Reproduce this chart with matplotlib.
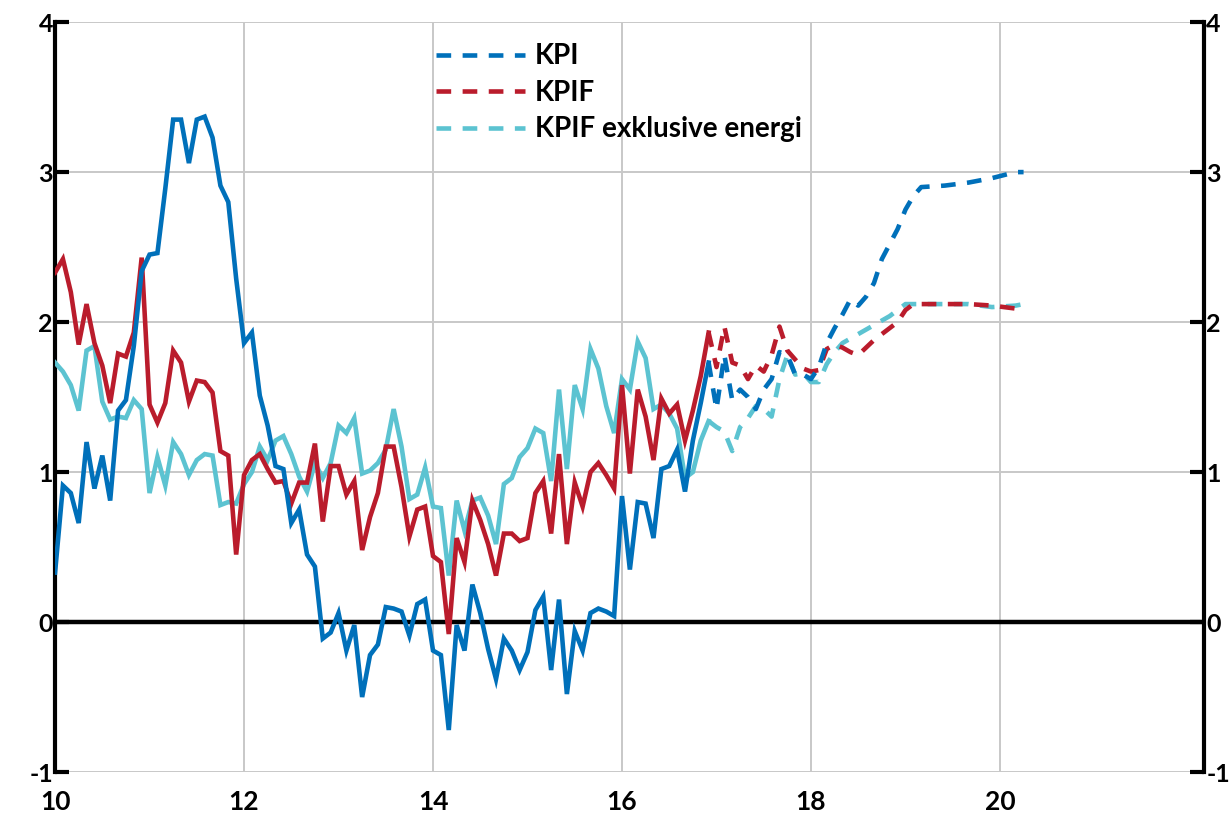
import numpy as np
import matplotlib
matplotlib.use("Agg")
import matplotlib.pyplot as plt
from matplotlib import font_manager

# font: condensed bold look of the original (Calibri)
names = {f.name for f in font_manager.fontManager.ttflist}
fam = "Liberation Sans Narrow" if "Liberation Sans Narrow" in names else "Lato"
plt.rcParams['font.family'] = [fam, 'DejaVu Sans']
plt.rcParams['font.weight'] = 'bold'
plt.rcParams['axes.unicode_minus'] = False

# outcome, monthly Jan 2010 - Dec 2016 (annual % change)
kpi = [0.33, 0.91, 0.86, 0.66, 1.20, 0.89, 1.11, 0.81, 1.41, 1.48, 1.84, 2.34,
       2.45, 2.46, 2.89, 3.35, 3.35, 3.06, 3.35, 3.37, 3.23, 2.91, 2.80, 2.29,
       1.86, 1.93, 1.51, 1.31, 1.04, 1.02, 0.66, 0.75, 0.45, 0.37, -0.11, -0.07,
       0.06, -0.19, -0.02, -0.50, -0.22, -0.15, 0.10, 0.09, 0.07, -0.09, 0.12, 0.15,
       -0.19, -0.22, -0.72, -0.02, -0.19, 0.25, 0.06, -0.18, -0.38, -0.11, -0.19, -0.32,
       -0.20, 0.08, 0.17, -0.32, 0.15, -0.48, -0.06, -0.19, 0.06, 0.09, 0.07, 0.04,
       0.84, 0.35, 0.80, 0.79, 0.56, 1.02, 1.04, 1.15, 0.87, 1.21, 1.46, 1.73]
kpif = [2.33, 2.42, 2.20, 1.85, 2.12, 1.86, 1.71, 1.46, 1.79, 1.77, 1.93, 2.43,
        1.45, 1.33, 1.46, 1.81, 1.73, 1.47, 1.61, 1.60, 1.53, 1.14, 1.11, 0.45,
        0.98, 1.08, 1.12, 1.02, 0.93, 0.94, 0.79, 0.93, 0.93, 1.19, 0.67, 1.04,
        1.04, 0.85, 0.94, 0.48, 0.70, 0.86, 1.17, 1.17, 0.90, 0.57, 0.75, 0.77,
        0.44, 0.40, -0.08, 0.56, 0.40, 0.81, 0.68, 0.52, 0.31, 0.59, 0.59, 0.54,
        0.56, 0.86, 0.94, 0.59, 1.12, 0.52, 0.93, 0.77, 1.00, 1.06, 0.98, 0.89,
        1.58, 0.99, 1.55, 1.37, 1.08, 1.49, 1.39, 1.45, 1.21, 1.41, 1.64, 1.93]
kpif_ex = [1.73, 1.67, 1.58, 1.41, 1.81, 1.84, 1.47, 1.35, 1.37, 1.36, 1.48, 1.42,
           0.86, 1.10, 0.91, 1.20, 1.12, 0.98, 1.08, 1.12, 1.11, 0.78, 0.80, 0.79,
           0.92, 1.00, 1.17, 1.08, 1.21, 1.24, 1.12, 0.97, 0.87, 1.06, 0.96, 1.06,
           1.31, 1.26, 1.36, 0.99, 1.01, 1.06, 1.15, 1.42, 1.17, 0.82, 0.85, 1.03,
           0.77, 0.76, 0.31, 0.81, 0.61, 0.81, 0.83, 0.71, 0.52, 0.92, 0.96, 1.10,
           1.16, 1.29, 1.26, 0.94, 1.55, 1.02, 1.58, 1.42, 1.82, 1.69, 1.44, 1.26,
           1.62, 1.55, 1.87, 1.76, 1.42, 1.45, 1.39, 1.29, 0.96, 1.00, 1.21, 1.34]

# forecast, months since Jan 2010
fc_months = list(range(83, 111)) + [113, 116, 119, 122, 123]
kpi_fc = [1.73, 1.42, 1.78, 1.48, 1.55, 1.50, 1.42, 1.55, 1.62, 1.80, 1.78, 1.65,
          1.65, 1.62, 1.70, 1.86, 1.96, 2.05, 2.15, 2.11, 2.17, 2.26, 2.42, 2.52,
          2.62, 2.75, 2.84, 2.90, 2.91, 2.93, 2.96, 3.00, 3.00]
kpif_fc = [1.93, 1.70, 1.97, 1.73, 1.71, 1.62, 1.71, 1.67, 1.78, 1.97, 1.81, 1.75,
           1.69, 1.67, 1.68, 1.82, 1.85, 1.83, 1.80, 1.78, 1.83, 1.88, 1.92, 1.96,
           2.00, 2.08, 2.12, 2.12, 2.12, 2.12, 2.11, 2.09, 2.08]
kpif_ex_fc = [1.34, 1.30, 1.27, 1.14, 1.30, 1.36, 1.44, 1.42, 1.37, 1.62, 1.78, 1.65,
              1.66, 1.60, 1.60, 1.72, 1.80, 1.86, 1.89, 1.92, 1.95, 1.98, 2.01, 2.04,
              2.08, 2.12, 2.12, 2.12, 2.12, 2.12, 2.10, 2.11, 2.12]

labels = ['KPI', 'KPIF', 'KPIF exklusive energi']
colors = ['#0070BA', '#BA1C2C', '#5CC3D1']

x = 10 + np.arange(len(kpi)) / 12
xf = 10 + np.array(fc_months) / 12

fig = plt.figure(figsize=(12.29, 8.25), dpi=100)
ax = fig.add_axes([0.0448, 0.0642, 0.9349, 0.909])

lw = 3.3
ax.axhline(0, color='black', lw=3.2, zorder=2)
for outcome, fc, c, lab in reversed(list(zip([kpi, kpif, kpif_ex],
                                             [kpi_fc, kpif_fc, kpif_ex_fc],
                                             colors, labels))):
    ax.plot(x, outcome, color=c, lw=lw, zorder=3, solid_joinstyle='miter')
    ax.plot(xf, fc, color=c, lw=lw, dashes=(3.2, 2.5), zorder=3, label=lab)

ax.set_xlim(10, 22.16)
ax.set_ylim(-1, 4)
ax.set_xticks(np.arange(10, 21, 2))
ax.set_yticks(np.arange(-1, 5, 1))
ax.grid(True, color='#c8c8c8', lw=1.4, zorder=0)
ax.set_axisbelow(True)

for s in ['top', 'bottom']:
    ax.spines[s].set_visible(False)
for s in ['left', 'right']:
    ax.spines[s].set_linewidth(3)
    ax.spines[s].set_color('black')

ax.tick_params(axis='x', length=0, pad=13, labelsize=19)
ax.tick_params(axis='y', direction='in', length=10, width=3, right=True,
               labelright=True, pad=1.5, labelsize=18)

h, l = ax.get_legend_handles_labels()
order = [l.index(n) for n in labels]
ax.legend([h[i] for i in order], [l[i] for i in order], loc='upper left',
          bbox_to_anchor=(0.31, 1.005), frameon=False, fontsize=20,
          handlelength=3.2, handletextpad=0.35, labelspacing=0.38)

fig.savefig('out.png', dpi=100)
